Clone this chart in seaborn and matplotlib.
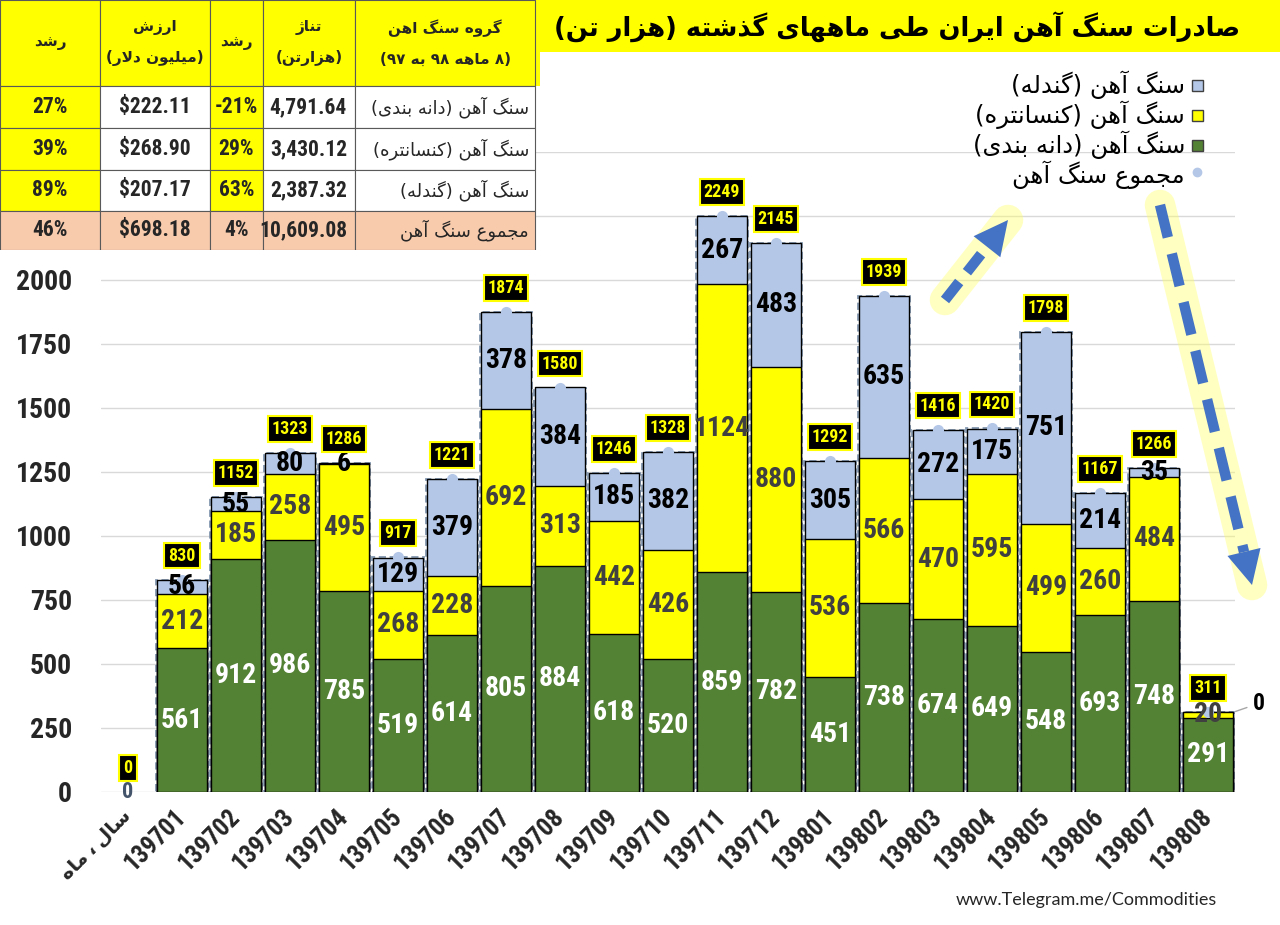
import re
import matplotlib
matplotlib.use("Agg")
import matplotlib.pyplot as plt
from matplotlib import font_manager as fm
from matplotlib.patches import Rectangle, Polygon
from matplotlib.lines import Line2D
import seaborn as sns
import numpy as np
import pandas as pd

# ---- data (thousand tonnes) ----
months = ['سال ، ماه', '139701', '139702', '139703', '139704', '139705', '139706',
          '139707', '139708', '139709', '139710', '139711', '139712', '139801',
          '139802', '139803', '139804', '139805', '139806', '139807', '139808']
lump = [0, 561, 912, 986, 785, 519, 614, 805, 884, 618, 520, 859, 782, 451, 738,
        674, 649, 548, 693, 748, 291]
concentrate = [0, 212, 185, 258, 495, 268, 228, 692, 313, 442, 426, 1124, 880, 536,
               566, 470, 595, 499, 260, 484, 20]
pellet = [0, 56, 55, 80, 6, 129, 379, 378, 384, 185, 382, 267, 483, 305, 635, 272,
          175, 751, 214, 35, 0]
total = [0, 830, 1152, 1323, 1286, 917, 1221, 1874, 1580, 1246, 1328, 2249, 2145,
         1292, 1939, 1416, 1420, 1798, 1167, 1266, 311]

series_names = ['سنگ آهن (گندله)', 'سنگ آهن (کنسانتره)', 'سنگ آهن (دانه بندی)', 'مجموع سنگ آهن']
title = 'صادرات سنگ آهن ایران طی ماههای گذشته (هزار تن)'
source = 'www.Telegram.me/Commodities'

# summary table (8 months 98 vs 97)
table_head = ['رشد', 'ارزش\n(میلیون دلار)', 'رشد', 'تناژ\n(هزارتن)', 'گروه سنگ اهن\n(۸ ماهه ۹۸ به ۹۷)']
table_groups = ['سنگ آهن (دانه بندی)', 'سنگ آهن (کنسانتره)', 'سنگ آهن (گندله)', 'مجموع سنگ آهن']
table_tonnage = ['4,791.64', '3,430.12', '2,387.32', '10,609.08']
table_tonnage_growth = ['-21%', '29%', '63%', '4%']
table_value = ['$222.11', '$268.90', '$207.17', '$698.18']
table_value_growth = ['27%', '39%', '89%', '46%']

GREEN = '#548235'
YELLOW = '#FFFF00'
BLUE = '#B4C7E7'
PEACH = '#F8CBAD'
ARROW = '#4472C4'


# ---- minimal Persian shaping + right-to-left ordering ----
def _dual(base):
    return (base, base + 1, base + 2, base + 3)

FORMS = {
    'ا': (0xFE8D, 0xFE8E, None, None), 'آ': (0xFE81, 0xFE82, None, None),
    'د': (0xFEA9, 0xFEAA, None, None), 'ذ': (0xFEAB, 0xFEAC, None, None),
    'ر': (0xFEAD, 0xFEAE, None, None), 'ز': (0xFEAF, 0xFEB0, None, None),
    'ژ': (0xFB8A, 0xFB8B, None, None), 'و': (0xFEED, 0xFEEE, None, None),
    'ب': _dual(0xFE8F), 'پ': _dual(0xFB56), 'ت': _dual(0xFE95), 'ث': _dual(0xFE99),
    'ج': _dual(0xFE9D), 'چ': _dual(0xFB7A), 'ح': _dual(0xFEA1), 'خ': _dual(0xFEA5),
    'س': _dual(0xFEB1), 'ش': _dual(0xFEB5), 'ص': _dual(0xFEB9), 'ض': _dual(0xFEBD),
    'ط': _dual(0xFEC1), 'ظ': _dual(0xFEC5), 'ع': _dual(0xFEC9), 'غ': _dual(0xFECD),
    'ف': _dual(0xFED1), 'ق': _dual(0xFED5), 'ک': _dual(0xFB8E), 'گ': _dual(0xFB92),
    'ل': _dual(0xFEDD), 'م': _dual(0xFEE1), 'ن': _dual(0xFEE5), 'ه': _dual(0xFEE9),
    'ی': _dual(0xFBFC), 'ئ': _dual(0xFE89),
}
LAM_ALEF = {'ا': (0xFEFB, 0xFEFC), 'آ': (0xFEF5, 0xFEF6)}
LTR = r'0-9۰-۹A-Za-z.,%$'


def shape(s):
    out, i = [], 0
    while i < len(s):
        c = s[i]
        if c not in FORMS:
            out.append(c)
            i += 1
            continue
        prev = s[i - 1] if i > 0 else None
        nxt = s[i + 1] if i + 1 < len(s) else None
        jp = prev in FORMS and FORMS[prev][2] is not None
        if c == 'ل' and nxt in LAM_ALEF:
            out.append(chr(LAM_ALEF[nxt][1 if jp else 0]))
            i += 2
            continue
        jn = nxt in FORMS and FORMS[c][2] is not None
        iso, fin, ini, med = FORMS[c]
        f = med if (jp and jn) else fin if jp else ini if jn else iso
        out.append(chr(f))
        i += 1
    return ''.join(out)


def rtl(text):
    lines = []
    for line in text.split('\n'):
        runs = re.findall(f'[{LTR}]+|[^{LTR}]+', shape(line))
        vis = []
        for r in reversed(runs):
            if re.match(f'[{LTR}]', r):
                vis.append(r)
            else:
                vis.append(r[::-1].translate(str.maketrans('()', ')(')))
        lines.append(''.join(vis))
    return '\n'.join(lines)


# pick a narrow face for numbers if one is installed
_fonts = fm.fontManager.ttflist
_names = {f.name for f in _fonts}
NARROW = next((n for n in ['Liberation Sans Narrow', 'Roboto Condensed', 'Open Sans Condensed',
                           'Noto Sans Condensed', 'Arial Narrow'] if n in _names), None)
STRETCH = 'normal'
if NARROW is None:
    for n in ['Roboto', 'Noto Sans', 'Open Sans', 'DejaVu Sans', 'Liberation Sans']:
        if any(f.name == n and f.stretch in ('condensed', 'semi-condensed', 'extra-condensed')
               for f in _fonts):
            NARROW, STRETCH = n, 'condensed'
            break
if NARROW is None:
    NARROW = 'Liberation Sans'
NUM = [NARROW, 'DejaVu Sans']
FA = ['DejaVu Sans']

sns.set_style('white')
plt.rcParams['font.family'] = NUM
plt.rcParams['font.stretch'] = STRETCH

df = pd.DataFrame({'month': [rtl(m) for m in months], 'lump': lump,
                   'concentrate': concentrate, 'pellet': pellet, 'total': total})
df['lc'] = df['lump'] + df['concentrate']
df['stack'] = df['lc'] + df['pellet']
order = list(df['month'])

W, H = 1280, 925
fig = plt.figure(figsize=(W / 100, H / 100), dpi=100)
ax = fig.add_axes([101 / W, 133 / H, 1134 / W, 640 / H])

# dashed outline of the total series
sns.barplot(data=df, x='month', y='total', order=order, fill=False, color='#8497B0',
            width=0.96, linestyle=(0, (4, 2)), linewidth=1.3, errorbar=None, ax=ax)
# stacked layers: draw cumulative heights, largest first
for col, colr in [('stack', BLUE), ('lc', YELLOW), ('lump', GREEN)]:
    sns.barplot(data=df, x='month', y=col, order=order, color=colr, saturation=1,
                width=0.92, edgecolor='black', linewidth=1, errorbar=None, ax=ax)
for p in ax.patches:
    if p.get_height() == 0:
        p.set_visible(False)

sns.stripplot(data=df[df['total'] > 0], x='month', y='total', order=order, jitter=False,
              size=8, color=BLUE, linewidth=0, ax=ax, zorder=5)

ax.set_xlim(-0.5, len(order) - 0.5)
ax.set_ylim(0, 2500)
yt = np.arange(0, 2501, 250)
ax.set_yticks(yt)
ax.set_yticklabels([str(v) if v <= 2000 else '' for v in yt], fontsize=20,
                   fontweight='bold')
ax.tick_params(axis='y', length=0, pad=21)
ax.set_xticks(range(len(order)))
ax.set_xticklabels(order, rotation=45, ha='right', va='center', rotation_mode='anchor',
                   fontsize=18, fontweight='bold', family=NUM)
ax.get_xticklabels()[0].set_fontsize(14)
ax.tick_params(axis='x', length=0, pad=15)
ax.set_xlabel('')
ax.set_ylabel('')
ax.grid(axis='y', color='#D9D9D9', lw=1)
ax.set_axisbelow(True)
for s in ax.spines.values():
    s.set_visible(False)

# segment and total labels
for i in range(len(order)):
    g, c, p, t = lump[i], concentrate[i], pellet[i], total[i]
    if i == 0:
        ax.text(i, 0, '0', ha='center', va='center', fontsize=16, fontweight='bold',
                color='#44546A', zorder=6)
    if g > 0:
        ax.text(i, g / 2, str(g), ha='center', va='center', fontsize=20,
                fontweight='bold', color='white', zorder=6)
    if c > 0:
        ax.text(i, g + c / 2, str(c), ha='center', va='center', fontsize=20,
                fontweight='bold', color='#404040', zorder=6)
    if p > 0:
        ax.text(i, g + c + p / 2, str(p), ha='center', va='center', fontsize=20,
                fontweight='bold', color='black', zorder=6)
    elif g > 0:
        ax.annotate(str(p), xy=(i + 0.46, g + c), xytext=(20, 9),
                    textcoords='offset pixels', ha='left', va='center', fontsize=17,
                    fontweight='bold', color='black',
                    arrowprops=dict(arrowstyle='-', color='#A6A6A6', lw=1, shrinkB=2))
    ax.annotate(str(t), xy=(i, t), xytext=(0, 24), textcoords='offset pixels',
                ha='center', va='center', fontsize=13, fontweight='bold', color=YELLOW,
                bbox=dict(boxstyle='square,pad=0.22', fc='black', ec=YELLOW, lw=1.5),
                zorder=7)


# trend arrows (figure pixel coordinates measured from the top)
def trend_arrow(tail, head, dash):
    t = np.array([tail[0], H - tail[1]], float)
    h = np.array([head[0], H - head[1]], float)
    u = (h - t) / np.hypot(*(h - t))
    perp = np.array([-u[1], u[0]])
    neck = h - u * 34
    fx = lambda pts: [(x / W, y / H) for x, y in pts]
    fig.lines.append(Line2D([t[0] / W, h[0] / W], [t[1] / H, h[1] / H],
                            transform=fig.transFigure, color='#FFFF66', lw=22, alpha=0.4,
                            solid_capstyle='round', zorder=0.5))
    fig.lines.append(Line2D([t[0] / W, neck[0] / W], [t[1] / H, neck[1] / H],
                            transform=fig.transFigure, color=ARROW, lw=7.5,
                            linestyle=(0, dash), dash_capstyle='butt', zorder=3))
    fig.patches.append(Polygon(fx([h, neck + perp * 17, neck - perp * 17]), closed=True,
                               transform=fig.transFigure, fc=ARROW, ec='none', zorder=3))

trend_arrow((945, 300), (1008, 220), (2.2, 1.2))
trend_arrow((1160, 205), (1252, 585), (3.2, 1.6))

# legend (right-to-left, marker on the right)
leg_colors = [BLUE, YELLOW, GREEN, None]
for k, (name, colr) in enumerate(zip(series_names, leg_colors)):
    yc = 85 + 30 * k
    fig.text(1185 / W, 1 - yc / H, rtl(name), ha='right', va='center', fontsize=17.5,
             family=FA, color='black')
    if colr:
        fig.patches.append(Rectangle((1192 / W, 1 - (yc + 6) / H), 11 / W, 11 / H,
                                     transform=fig.transFigure, fc=colr, ec='#404040',
                                     lw=1))
    else:
        fig.lines.append(Line2D([1197 / W], [1 - (yc - 3) / H], marker='o', ms=6,
                                color=BLUE, transform=fig.transFigure))

# title banner
fig.patches.append(Rectangle((540 / W, 1 - 52 / H), 740 / W, 52 / H,
                             transform=fig.transFigure, fc=YELLOW, ec='none'))
fig.text(1240 / W, 1 - 27 / H, rtl(title), ha='right', va='center', fontsize=18.5,
         fontweight='bold', family=FA, color='black')

# summary table
tax = fig.add_axes([0, 1 - 250 / H, 540 / W, 250 / H])
tax.set_xlim(0, 540)
tax.set_ylim(250, 0)
tax.axis('off')
col_edges = [0, 100, 210, 263, 355, 535]
row_edges = [0, 86, 128, 170, 211, 250]
body = [table_value_growth, table_value, table_tonnage_growth, table_tonnage]
tax.add_patch(Rectangle((0, 0), 540, 86, fc=YELLOW, ec='none'))
for r in range(5):
    y0, y1 = row_edges[r], row_edges[r + 1]
    for cidx in range(5):
        x0, x1 = col_edges[cidx], col_edges[cidx + 1]
        if r == 0:
            fc = YELLOW
        elif r == 4:
            fc = PEACH
        else:
            fc = YELLOW if cidx in (0, 2) else 'white'
        tax.add_patch(Rectangle((x0, y0), x1 - x0, y1 - y0, fc=fc, ec='#595959', lw=0.8))
        xm, ym = (x0 + x1) / 2, (y0 + y1) / 2
        if r == 0:
            tax.text(xm, ym, rtl(table_head[cidx]), ha='center', va='center',
                     fontsize=11, fontweight='bold', family=FA, linespacing=2.2)
        elif cidx == 4:
            tax.text(x1 - 6, ym, rtl(table_groups[r - 1]), ha='right', va='center',
                     fontsize=13, family=FA)
        elif cidx == 3:
            tax.text(x1 - 8, ym, body[cidx][r - 1], ha='right', va='center',
                     fontsize=15.5, fontweight='bold', family=NUM)
        else:
            tax.text(xm, ym, body[cidx][r - 1], ha='center', va='center',
                     fontsize=15.5, fontweight='bold', family=NUM)

fig.text(1217 / W, 1 - 900 / H, source, ha='right', va='center', fontsize=13,
         family=['Lato', 'DejaVu Sans'], color='#262626')

fig.savefig('out.png', dpi=100)
